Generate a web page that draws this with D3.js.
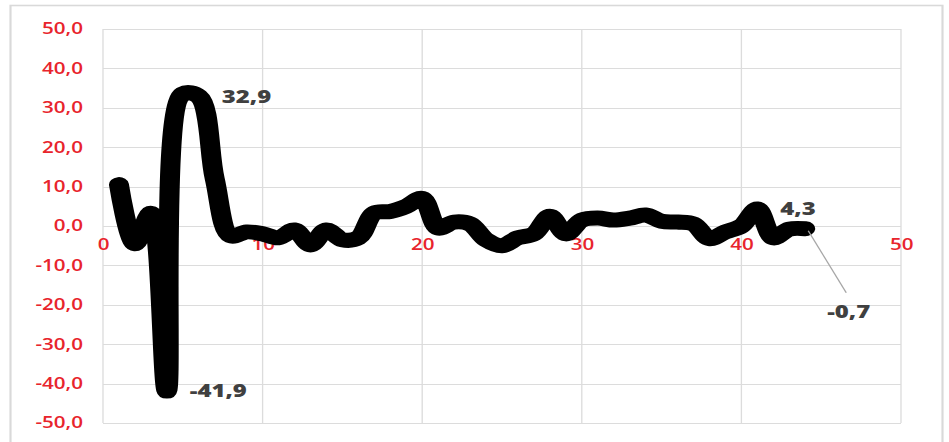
<!DOCTYPE html>
<meta charset="utf-8">
<title>Line chart</title>
<style>

body {
  margin: 0;
  background-color: white;
}

.tick text {
  font-family: "Open Sans", sans-serif;
  font-weight: 600;
  font-size: 15.5px;
  fill: #e8242c;
}

.label {
  font-family: "Open Sans", sans-serif;
  font-weight: 800;
  font-size: 18px;
  fill: #404040;
}

</style>
<body>
<script src="https://d3js.org/d3.v7.min.js"></script>
<script>

var xs = d3.range(1, 45);

var values = [
  10.5, -4.5, 3.2, -41.9, 33.5, 32.9, 12.0, -2.5, -1.5, -2.0,
  -3.0, -1.0, -4.8, -1.0, -3.5, -3.0, 3.3, 3.7, 5.0, 7.0,
  -0.5, 1.0, 0.5, -3.5, -5.0, -3.0, -2.0, 2.5, -2.0, 1.5,
  2.0, 1.5, 2.0, 2.8, 1.2, 1.0, 0.5, -3.2, -1.5, 0.0,
  4.3, -3.0, -0.8, -0.7
];

var xTicks = [0, 10, 20, 30, 40, 50],
    yTicks = [-50, -40, -30, -20, -10, 0, 10, 20, 30, 40, 50];

// points that carry a data label
var labelled = [4, 6, 41];

// the picture is stretched sideways, so draw narrow and scale up
var sx = 1.33;

var width = 949,
    height = 442,
    margin = {top: 29, right: 48, bottom: 19, left: 103};

var svg = d3.select("body").append("svg")
    .attr("width", width)
    .attr("height", height);

var g = svg.append("g")
    .attr("transform", "scale(" + sx + ",1)");

g.append("rect")
    .attr("x", 10.5 / sx)
    .attr("y", 5.5)
    .attr("width", 932 / sx)
    .attr("height", 445)
    .style("fill", "none")
    .style("stroke", "#d9d9d9")
    .style("stroke-width", 1.6);

var x = d3.scaleLinear()
    .domain([0, 50])
    .range([margin.left / sx, (width - margin.right) / sx]);

var y = d3.scaleLinear()
    .domain([-50, 50])
    .range([height - margin.bottom, margin.top]);

var grid = g.append("g")
    .style("stroke", "#dcdcdc")
    .style("stroke-width", 1);

grid.selectAll(".h")
    .data(yTicks)
  .enter().append("line")
    .attr("x1", x(0))
    .attr("x2", x(50))
    .attr("y1", function(d) { return Math.round(y(d)) + .5; })
    .attr("y2", function(d) { return Math.round(y(d)) + .5; });

grid.selectAll(".v")
    .data(xTicks)
  .enter().append("line")
    .attr("y1", y(50))
    .attr("y2", y(-50))
    .attr("x1", function(d) { return x(d); })
    .attr("x2", function(d) { return x(d); });

var fmt = function(d) { return d3.format(".1f")(d).replace(".", ",").replace("−", "-"); };

g.append("g")
    .attr("transform", "translate(" + (x(0) - 20 / sx) + ",0)")
    .call(d3.axisLeft(y).tickValues(yTicks).tickSize(0).tickPadding(0).tickFormat(fmt))
    .call(function(a) { a.select(".domain").remove(); })
    .selectAll("text")
    .attr("text-anchor", "end");

g.append("g")
    .attr("transform", "translate(0," + y(0) + ")")
    .call(d3.axisBottom(x).tickValues(xTicks).tickSize(0).tickFormat(d3.format("d")))
    .call(function(a) { a.select(".domain").remove(); })
    .selectAll("text")
    .attr("dy", "1.35em");

var line = d3.line()
    .x(function(d, i) { return x(xs[i]); })
    .y(function(d) { return y(d); })
    .curve(d3.curveCatmullRom.alpha(0.5));

g.append("path")
    .datum(values)
    .attr("d", line)
    .style("fill", "none")
    .style("stroke", "black")
    .style("stroke-width", 15)
    .style("stroke-linejoin", "round")
    .style("stroke-linecap", "round");

g.selectAll(".label")
    .data(labelled)
  .enter().append("text")
    .attr("class", "label")
    .attr("x", function(d) { return x(d) + 23 / sx; })
    .attr("y", function(d) { return y(values[d - 1]); })
    .attr("dy", "0.35em")
    .text(function(d) { return fmt(values[d - 1]); });

// last point, label pulled away with a leader line
var last = xs.length;
g.append("line")
    .attr("x1", x(last) + 3 / sx)
    .attr("y1", y(values[last - 1]) + 2)
    .attr("x2", x(last) + 41 / sx)
    .attr("y2", y(values[last - 1]) + 64)
    .style("stroke", "#a6a6a6")
    .style("stroke-width", 1);

g.append("text")
    .attr("class", "label")
    .attr("x", x(last) + 22 / sx)
    .attr("y", y(values[last - 1]) + 83)
    .attr("dy", "0.35em")
    .text(fmt(values[last - 1]));

</script>
